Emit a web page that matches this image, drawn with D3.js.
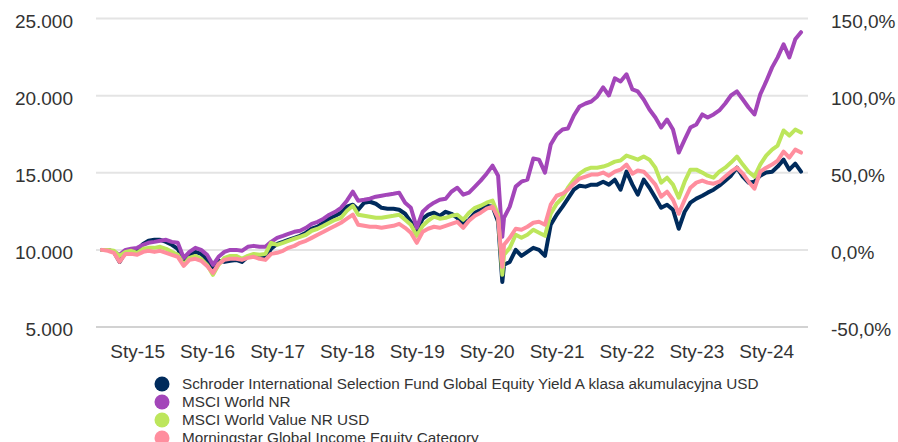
<!DOCTYPE html>
<html>
<head>
<meta charset="utf-8">
<script src="https://cdn.jsdelivr.net/npm/d3@7"></script>
<style>
  body { margin: 0; background: #fff; }
  svg { display: block; font-family: "Liberation Sans", Arial, sans-serif; }
</style>
</head>
<body>
<svg id="chart" width="898" height="442"></svg>
<script>
// ---- data ----
const firstMonth = "2014-07-01";
const lastMonth = "2024-07-01";
const extraDate = "2020-03-23";   // COVID trough point, inserted after Mar 2020
const extraIndex = 69;

const seriesNames = [
  "Schroder International Selection Fund Global Equity Yield A klasa akumulacyjna USD",
  "MSCI World NR",
  "MSCI World Value NR USD",
  "Morningstar Global Income Equity Category"
];
const seriesColors = ["#002B5C", "#A346B9", "#BDE65C", "#FF8E9E"];

const schroder = [
  10000, 10000, 9870, 9220, 9870, 9940, 10000, 10390, 10590, 10650,
  10650, 10520, 10330, 10070, 9290, 9680, 9870, 9740, 9350, 8830,
  9290, 9220, 9290, 9350, 9220, 9550, 9610, 9480, 9480, 10070,
  10390, 10520, 10650, 10780, 10910, 11110, 11370, 11500, 11760, 12020,
  12210, 12410, 12800, 12930, 12600, 13060, 13120, 12990, 12730, 12670,
  12670, 12600, 12340, 11820, 11240, 12020, 12280, 12410, 12210, 12470,
  12340, 12080, 11690, 11950, 12410, 12600, 12860, 12800, 11820,
  7920,
  9030, 9220, 10000, 9610, 9870, 10130, 10000, 9610, 11630, 12280, 12800,
  13320, 13900, 14160, 14100, 14230, 14230, 14420, 14230, 14550, 13900,
  15070, 14230, 13580, 14550, 14030, 13380, 12730, 12930, 12600, 11370,
  12470, 13060, 13320, 13510, 13710, 13900, 14160, 14490, 14810, 15330,
  14750, 14360, 14420, 14810, 15010, 15070, 15400, 15850, 15200, 15590, 15070
];
const msciWorld = [
  10000, 10000, 9870, 9680, 10000, 10070, 10130, 10330, 10460, 10520,
  10590, 10650, 10520, 10460, 9480, 9870, 10130, 10000, 9680, 9030,
  9550, 9870, 10000, 10000, 9940, 10200, 10260, 10200, 10200, 10520,
  10780, 10910, 11040, 11170, 11240, 11430, 11690, 11820, 12020, 12280,
  12470, 12730, 13190, 13770, 13190, 13250, 13320, 13450, 13510, 13580,
  13640, 13710, 13060, 12730, 11430, 12470, 12800, 13060, 13250, 13320,
  13770, 14030, 13580, 13710, 14100, 14490, 14940, 15460, 14810,
  10850,
  12080, 12800, 14100, 14420, 14550, 15920, 15850, 15010, 16830, 17480, 17800,
  17870, 18710, 19300, 19490, 19620, 19950, 20530, 20010, 21120, 20920,
  21380, 20400, 20270, 19750, 19100, 18580, 17930, 18450, 17800, 16310,
  17150, 17930, 18130, 18780, 18580, 18780, 19040, 19490, 20010, 20270,
  19750, 19230, 18780, 20080, 20920, 21830, 22480, 23330, 22480, 23650, 24110
];
const msciWorldValue = [
  10000, 10000, 9940, 9610, 9870, 9940, 9810, 10070, 10130, 10130,
  10200, 10070, 9870, 9680, 9030, 9480, 9610, 9420, 9030, 8380,
  9030, 9480, 9610, 9610, 9420, 9610, 9740, 9680, 9740, 10460,
  10330, 10460, 10590, 10720, 10850, 10980, 11240, 11370, 11560, 11760,
  11950, 12080, 12540, 12860, 12280, 12210, 12150, 12080, 12080, 12150,
  12210, 12280, 11950, 11630, 10910, 11560, 11890, 12150, 12020, 12080,
  12210, 12280, 11950, 12410, 12730, 12860, 13060, 13190, 12280,
  8380,
  9680, 10130, 10980, 10780, 10980, 11300, 11110, 10910, 12340, 12990, 13380,
  14030, 14550, 14940, 15200, 15330, 15330, 15400, 15530, 15720, 15790,
  16110, 15980, 15850, 16050, 15850, 15330, 14360, 14680, 14230, 13380,
  14420, 15200, 15200, 15010, 14810, 14680, 15070, 15330, 15660, 16050,
  15530, 15070, 14750, 15530, 16110, 16500, 16760, 17740, 17410, 17800, 17610
];
const morningstarCategory = [
  10000, 9940, 9810, 9220, 9740, 9740, 9680, 9870, 9940, 9870,
  9940, 9810, 9680, 9550, 8960, 9350, 9420, 9290, 8960, 8510,
  9090, 9350, 9420, 9420, 9350, 9480, 9550, 9420, 9350, 9740,
  9810, 9940, 10130, 10260, 10460, 10590, 10780, 10980, 11170, 11370,
  11560, 11760, 12020, 12280, 11630, 11560, 11500, 11500, 11430, 11500,
  11560, 11690, 11430, 11110, 10460, 11170, 11370, 11500, 11430, 11560,
  11690, 11820, 11430, 11890, 12210, 12410, 12670, 12800, 12080,
  8900,
  10330, 10780, 11370, 11300, 11500, 11760, 11820, 11630, 12930, 13510, 13640,
  13900, 14290, 14620, 14750, 14880, 14880, 15010, 14810, 15070, 15200,
  15530, 14940, 15140, 15070, 14680, 14230, 13450, 13770, 13250, 12340,
  13250, 14030, 14360, 14490, 14360, 14290, 14420, 14750, 15070, 15330,
  14940, 14420, 13970, 15070, 15330, 15530, 15790, 16370, 15980, 16500, 16310
];

const leftTicks = [5000, 10000, 15000, 20000, 25000];
const baseValue = 10000;
const xTickYears = [2015, 2016, 2017, 2018, 2019, 2020, 2021, 2022, 2023, 2024];
const xTickPrefix = "Sty-";

// ---- build ----
const parse = d3.timeParse("%Y-%m-%d");
const dates = d3.timeMonth.range(parse(firstMonth), d3.timeMonth.offset(parse(lastMonth), 1));
dates.splice(extraIndex, 0, parse(extraDate));
const allSeries = [schroder, msciWorld, msciWorldValue, morningstarCategory];

const loc = d3.formatLocale({decimal: ",", thousands: ".", grouping: [3], currency: ["", ""], minus: "-"});
const fmtLeft = loc.format(",.0f");
const fmtRight = loc.format(".1%");

const svg = d3.select("#chart");
const x = d3.scaleTime().domain([parse(firstMonth), parse(lastMonth)]).range([102, 801]);
const y = d3.scaleLinear().domain([5000, 25000]).range([327, 18.5]);
const yR = d3.scaleLinear().domain([5000 / baseValue - 1, 25000 / baseValue - 1]).range([327, 18.5]);

// grid
svg.append("g").selectAll("line").data(leftTicks).join("line")
  .attr("x1", 96).attr("x2", 808)
  .attr("y1", d => y(d)).attr("y2", d => y(d))
  .attr("stroke", d => d === 5000 ? "#d2d2d2" : "#e4e4e4")
  .attr("stroke-width", 2);

const textColor = "#333333";
// left axis
const gl = svg.append("g").attr("transform", "translate(73,0)")
  .call(d3.axisLeft(y).tickValues(leftTicks).tickFormat(fmtLeft).tickSize(0).tickPadding(0));
gl.select(".domain").remove();
gl.selectAll("text").attr("font-size", 19).attr("fill", textColor).attr("dy", "0.46em")
  .attr("font-family", "Liberation Sans, Arial, sans-serif");

// right axis
const gr = svg.append("g").attr("transform", "translate(831,0)")
  .call(d3.axisRight(yR).tickValues(leftTicks.map(v => v / baseValue - 1)).tickFormat(fmtRight).tickSize(0).tickPadding(0));
gr.select(".domain").remove();
gr.selectAll("text").attr("font-size", 19).attr("fill", textColor).attr("dy", "0.46em")
  .attr("font-family", "Liberation Sans, Arial, sans-serif");

// x axis
const xTicks = xTickYears.map(yr => new Date(yr, 0, 1));
const gx = svg.append("g").attr("transform", "translate(0,344)")
  .call(d3.axisBottom(x).tickValues(xTicks).tickFormat(d => xTickPrefix + d3.timeFormat("%y")(d)).tickSize(0).tickPadding(0));
gx.select(".domain").remove();
gx.selectAll("text").attr("font-size", 19).attr("fill", textColor)
  .attr("font-family", "Liberation Sans, Arial, sans-serif");

// lines
const line = d3.line().x((d, i) => x(dates[i])).y(d => y(d));
svg.append("g").selectAll("path").data(allSeries).join("path")
  .attr("d", d => line(d))
  .attr("fill", "none")
  .attr("stroke", (d, i) => seriesColors[i])
  .attr("stroke-width", 4)
  .attr("stroke-linejoin", "round")
  .attr("stroke-linecap", "round");

// legend
const lg = svg.append("g").selectAll("g").data(seriesNames).join("g")
  .attr("transform", (d, i) => `translate(162,${384 + i * 18})`);
lg.append("circle").attr("r", 7.5).attr("fill", (d, i) => seriesColors[i]);
lg.append("text").attr("x", 20).attr("y", 5.3).attr("font-size", 15.3).attr("fill", textColor).text(d => d);
</script>
</body>
</html>
